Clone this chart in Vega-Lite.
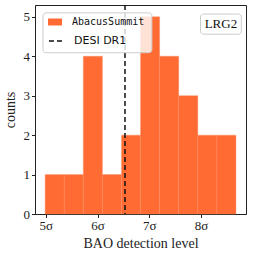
{
  "$schema": "https://vega.github.io/schema/vega-lite/v6.json",
  "autosize": {"type": "none"},
  "width": 211,
  "height": 209,
  "padding": {"left": 35, "top": 5, "right": 7, "bottom": 43},
  "background": "white",
  "config": {
    "view": {"stroke": "#222", "strokeWidth": 1},
    "axis": {
      "grid": false,
      "domainColor": "#222",
      "tickColor": "#222",
      "tickSize": 3.5,
      "labelFont": "Liberation Serif",
      "labelFontSize": 13,
      "labelColor": "#222",
      "titleFont": "Liberation Serif",
      "titleFontSize": 14,
      "titleFontWeight": "normal",
      "titleColor": "#222",
      "labelPadding": 2
    },
    "legend": {"labelColor": "#111", "padding": 0, "labelOffset": 10, "title": null}
  },
  "layer": [
    {
      "data": {"values": [
        {"bin_start": 4.986, "bin_end": 5.355, "count": 1, "series": "AbacusSummit"},
        {"bin_start": 5.355, "bin_end": 5.724, "count": 1, "series": "AbacusSummit"},
        {"bin_start": 5.724, "bin_end": 6.093, "count": 4, "series": "AbacusSummit"},
        {"bin_start": 6.093, "bin_end": 6.462, "count": 1, "series": "AbacusSummit"},
        {"bin_start": 6.462, "bin_end": 6.831, "count": 2, "series": "AbacusSummit"},
        {"bin_start": 6.831, "bin_end": 7.200, "count": 5, "series": "AbacusSummit"},
        {"bin_start": 7.200, "bin_end": 7.569, "count": 4, "series": "AbacusSummit"},
        {"bin_start": 7.569, "bin_end": 7.938, "count": 3, "series": "AbacusSummit"},
        {"bin_start": 7.938, "bin_end": 8.307, "count": 2, "series": "AbacusSummit"},
        {"bin_start": 8.307, "bin_end": 8.676, "count": 2, "series": "AbacusSummit"}
      ]},
      "mark": {"type": "rect", "stroke": "#ff8c63", "strokeWidth": 0.4},
      "encoding": {
        "x": {
          "field": "bin_start", "type": "quantitative",
          "scale": {"domain": [4.79, 8.87], "nice": false, "zero": false},
          "axis": {"values": [5, 6, 7, 8], "labelExpr": "datum.value + 'σ'", "title": "BAO detection level", "titlePadding": 4}
        },
        "x2": {"field": "bin_end"},
        "y": {
          "field": "count", "type": "quantitative",
          "scale": {"domain": [0, 5.3], "nice": false},
          "axis": {"values": [0, 1, 2, 3, 4, 5], "title": "counts", "titlePadding": 6}
        },
        "y2": {"datum": 0},
        "fill": {
          "field": "series", "type": "nominal",
          "scale": {"domain": ["AbacusSummit"], "range": ["#ff6b33"]},
          "legend": {
            "orient": "none",
            "legendX": 13,
            "legendY": 10,
            "symbolType": "M-1,-0.5H1V0.5H-1Z",
            "symbolSize": 196,
            "symbolOpacity": 1,
            "symbolStrokeWidth": 0,
            "labelFont": "DejaVu Sans Mono",
            "labelFontSize": 10
          }
        }
      }
    },
    {
      "data": {"values": [{"level": 6.53, "series": "DESI DR1"}]},
      "mark": {"type": "rule", "strokeWidth": 1.5, "color": "#111111"},
      "encoding": {
        "x": {"field": "level", "type": "quantitative"},
        "strokeDash": {
          "field": "series", "type": "nominal",
          "scale": {"domain": ["DESI DR1"], "range": [[5, 3]]},
          "legend": {
            "orient": "none",
            "legendX": 13,
            "legendY": 28,
            "symbolType": "stroke",
            "symbolSize": 196,
            "symbolStrokeColor": "#111111",
            "symbolStrokeWidth": 1.5,
            "labelFont": "DejaVu Sans",
            "labelFontSize": 11
          }
        }
      }
    },
    {
      "data": {"values": [{"label": "legend box"}]},
      "mark": {"type": "rect", "fill": "white", "fillOpacity": 0.8, "stroke": "#cccccc", "strokeWidth": 1, "cornerRadius": 3},
      "encoding": {
        "x": {"datum": 4.945},
        "x2": {"datum": 7.05},
        "y": {"datum": 5.1},
        "y2": {"datum": 4.09}
      }
    },
    {
      "data": {"values": [{"label": "LRG2"}]},
      "mark": {"type": "rect", "fill": "white", "fillOpacity": 0.8, "stroke": "#cccccc", "strokeWidth": 1, "cornerRadius": 3},
      "encoding": {
        "x": {"datum": 7.99},
        "x2": {"datum": 8.78},
        "y": {"datum": 5.07},
        "y2": {"datum": 4.56}
      }
    },
    {
      "data": {"values": [{"label": "LRG2"}]},
      "mark": {"type": "text", "font": "Liberation Serif", "fontSize": 13, "color": "#111", "align": "center", "baseline": "middle"},
      "encoding": {
        "x": {"datum": 8.385},
        "y": {"datum": 4.815},
        "text": {"field": "label"}
      }
    }
  ]
}
